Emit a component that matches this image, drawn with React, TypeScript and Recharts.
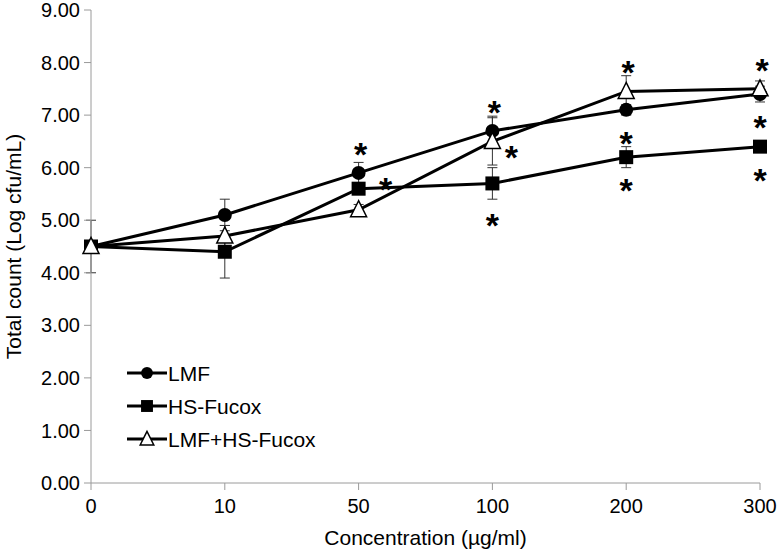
import { LineChart, Line, XAxis, YAxis, ErrorBar, Legend, Label } from 'recharts';

const concentrations = ['0', '10', '50', '100', '200', '300'];
const lmf = [4.5, 5.1, 5.9, 6.7, 7.1, 7.4];
const hsFucox = [4.5, 4.4, 5.6, 5.7, 6.2, 6.4];
const combined = [4.5, 4.7, 5.2, 6.5, 7.45, 7.5];
const lmfErr = [0, 0.3, 0.2, 0.28, 0.1, 0.15];
const hsFucoxErr = [0, 0.5, 0.1, 0.3, 0.2, 0.1];
const combinedErr = [0.5, 0.2, 0.1, 0.45, 0.3, 0.15];
// significance star for each point, '' = none
const lmfStars = ['', '', 'above', 'above', 'below', 'below'];
const hsFucoxStars = ['', '', 'right', 'farBelow', 'below', 'below'];
const combinedStars = ['', '', '', 'lowRight', 'above', 'above'];
const yTicks = [0, 1, 2, 3, 4, 5, 6, 7, 8, 9];

const FONT = '"Liberation Sans", Arial, sans-serif';
const AXIS = '#9a9a9a';

const starOffset: Record<string, [number, number]> = {
  above: [2, -26],
  below: [0, 26],
  farBelow: [0, 35],
  right: [27, -7],
  lowRight: [19, 9],
};

const data = concentrations.map((c, i) => ({
  conc: c,
  lmf: lmf[i],
  lmfErr: lmfErr[i],
  hsFucox: hsFucox[i],
  hsFucoxErr: hsFucoxErr[i],
  combined: combined[i],
  combinedErr: combinedErr[i],
}));

function Marker({ kind, cx, cy, s = 1 }: { kind: string; cx: number; cy: number; s?: number }) {
  if (kind === 'circle') return <circle cx={cx} cy={cy} r={7 * s} fill="#000" />;
  if (kind === 'square') return <rect x={cx - 7 * s} y={cy - 7 * s} width={14 * s} height={14 * s} fill="#000" />;
  return (
    <polygon
      points={`${cx},${cy - 9 * s} ${cx - 8 * s},${cy + 7 * s} ${cx + 8 * s},${cy + 7 * s}`}
      fill="#fff"
      stroke="#000"
      strokeWidth={1.5}
    />
  );
}

function makeDot(kind: string, stars: string[]) {
  return (p: any) => {
    const { cx, cy, index } = p;
    const pos = stars[index];
    const off = pos ? starOffset[pos] : null;
    return (
      <g key={`${kind}-${index}`}>
        <Marker kind={kind} cx={cx} cy={cy} />
        {off && (
          <text
            x={cx + off[0]}
            y={cy + off[1] + 19}
            textAnchor="middle"
            fontFamily={FONT}
            fontWeight="bold"
            fontSize={34}
            fill="#000"
          >
            *
          </text>
        )}
      </g>
    );
  };
}

const legendItems = [
  { name: 'LMF', kind: 'circle' },
  { name: 'HS-Fucox', kind: 'square' },
  { name: 'LMF+HS-Fucox', kind: 'triangle' },
];

function LegendBox() {
  return (
    <svg width={260} height={100}>
      {legendItems.map((it, i) => {
        const y = 17 + i * 33;
        return (
          <g key={it.name}>
            <line x1={7} x2={47} y1={y} y2={y} stroke="#000" strokeWidth={3} />
            <Marker kind={it.kind} cx={27} cy={y} s={0.85} />
            <text x={48} y={y + 7.5} fontFamily={FONT} fontSize={21} fill="#000">
              {it.name}
            </text>
          </g>
        );
      })}
    </svg>
  );
}

export default function App() {
  return (
    <div style={{ position: 'absolute', left: 0, top: 0 }}>
      <LineChart width={777} height={551} data={data} margin={{ top: 10, right: 17, left: 0, bottom: 38 }}>
        <XAxis
          dataKey="conc"
          height={30}
          interval={0}
          tickSize={7}
          tickMargin={9}
          stroke={AXIS}
          tick={{ fill: '#000', fontSize: 20, fontFamily: FONT }}
        >
          <Label
            content={({ viewBox }: any) => (
              <text
                x={viewBox.x + viewBox.width / 2}
                y={545}
                textAnchor="middle"
                fontFamily={FONT}
                fontSize={21}
                fill="#000"
              >
                Concentration (µg/ml)
              </text>
            )}
          />
        </XAxis>
        <YAxis
          width={91}
          domain={[0, 9]}
          ticks={yTicks}
          interval={0}
          tickSize={7}
          tickMargin={4}
          stroke={AXIS}
          tickFormatter={(v: number) => v.toFixed(2)}
          tick={{ fill: '#000', fontSize: 20, fontFamily: FONT }}
        >
          <Label
            content={({ viewBox }: any) => {
              const cy = viewBox.y + viewBox.height / 2;
              return (
                <text
                  x={13}
                  y={cy}
                  transform={`rotate(-90, 13, ${cy})`}
                  textAnchor="middle"
                  dominantBaseline="central"
                  fontFamily={FONT}
                  fontSize={21}
                  fill="#000"
                >
                  Total count (Log cfu/mL)
                </text>
              );
            }}
          />
        </YAxis>
        <Legend
          verticalAlign="middle"
          align="center"
          layout="horizontal"
          wrapperStyle={{ left: 120, top: 356, width: 260, height: 100 }}
          content={() => <LegendBox />}
        />
        <Line
          dataKey="lmf"
          name="LMF"
          stroke="#000"
          strokeWidth={3}
          isAnimationActive={false}
          dot={makeDot('circle', lmfStars)}
          activeDot={false}
        >
          <ErrorBar dataKey="lmfErr" direction="y" width={5} stroke="#333" strokeWidth={1} />
        </Line>
        <Line
          dataKey="hsFucox"
          name="HS-Fucox"
          stroke="#000"
          strokeWidth={3}
          isAnimationActive={false}
          dot={makeDot('square', hsFucoxStars)}
          activeDot={false}
        >
          <ErrorBar dataKey="hsFucoxErr" direction="y" width={5} stroke="#333" strokeWidth={1} />
        </Line>
        <Line
          dataKey="combined"
          name="LMF+HS-Fucox"
          stroke="#000"
          strokeWidth={3}
          isAnimationActive={false}
          dot={makeDot('triangle', combinedStars)}
          activeDot={false}
        >
          <ErrorBar dataKey="combinedErr" direction="y" width={5} stroke="#333" strokeWidth={1} />
        </Line>
      </LineChart>
    </div>
  );
}
